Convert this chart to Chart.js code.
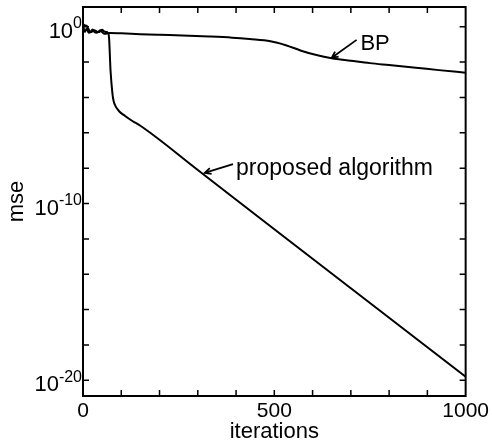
<!DOCTYPE html>
<html>
<head>
<meta charset="utf-8">
<script src="https://cdn.jsdelivr.net/npm/chart.js@4/dist/chart.umd.min.js"></script>
<style>
  body { margin: 0; background: #fff; }
  canvas { display: block; }
</style>
</head>
<body>
<canvas id="chart" width="492" height="448"></canvas>
<script>
// BP curve (iterations, mse)
var bpIter = [0, 5, 10, 15, 20, 25, 30, 35, 40, 45, 50, 55, 60, 70, 100, 150, 200, 260, 330, 390, 435, 490, 530, 570, 610, 650, 700, 750, 800, 870, 930, 1000];
var bpMse = [1.26, 0.5, 0.8, 0.45, 0.5, 0.7, 0.5, 0.45, 0.5, 0.63, 0.5, 0.4, 0.4, 0.44, 0.42, 0.38, 0.35, 0.32, 0.28, 0.24, 0.2, 0.15, 0.09, 0.044, 0.025, 0.0166, 0.012, 0.0087, 0.0068, 0.0048, 0.0035, 0.0025];

// proposed algorithm curve
var propIter = [0, 5, 10, 15, 20, 25, 30, 35, 40, 45, 50, 55, 60, 65, 68, 72, 77, 80, 85, 95, 110, 130, 150, 300, 500, 700, 1000];
var propMse = [1.4, 1.2, 1.1, 0.7, 0.5, 0.55, 0.62, 0.55, 0.5, 0.55, 0.68, 0.55, 0.5, 0.45, 0.25, 3.2e-3, 1.6e-4, 6.3e-5, 3.2e-5, 1.6e-5, 8.9e-6, 4.5e-6, 2.5e-6, 7.9e-9, 3.5e-12, 1.6e-15, 1.6e-20];

// axes
var xTickValues = [0, 500, 1000];
var xMinorTicks = [100, 200, 300, 400, 500, 600, 700, 800, 900];
var yTickValues = [1, 1e-10, 1e-20];
var yTickExps = ["0", "-10", "-20"];
var yMinorTicks = [1, 1e-2, 1e-4, 1e-6, 1e-8, 1e-10, 1e-12, 1e-14, 1e-16, 1e-18, 1e-20];

function toPoints(xs, ys) {
  return xs.map(function (x, i) { return { x: x, y: ys[i] }; });
}

var FONT = "'Liberation Sans', Arial, sans-serif";

var framePlugin = {
  id: "frame",
  afterDraw: function (chart) {
    var ctx = chart.ctx;
    var a = chart.chartArea;
    var xs = chart.scales.x;
    var ys = chart.scales.y;
    ctx.save();
    ctx.strokeStyle = "#000";
    ctx.lineWidth = 2;
    ctx.strokeRect(a.left, a.top, a.right - a.left, a.bottom - a.top);

    // inward ticks
    ctx.lineWidth = 1.5;
    ctx.beginPath();
    xMinorTicks.forEach(function (v) {
      var px = xs.getPixelForValue(v);
      ctx.moveTo(px, a.bottom); ctx.lineTo(px, a.bottom - 6);
      ctx.moveTo(px, a.top); ctx.lineTo(px, a.top + 6);
    });
    yMinorTicks.forEach(function (v) {
      var py = ys.getPixelForValue(v);
      ctx.moveTo(a.left, py); ctx.lineTo(a.left + 6, py);
      ctx.moveTo(a.right, py); ctx.lineTo(a.right - 6, py);
    });
    ctx.stroke();

    // y tick labels with superscripts
    ctx.fillStyle = "#000";
    ctx.textBaseline = "middle";
    yTickValues.forEach(function (v, i) {
      var py = ys.getPixelForValue(v);
      var xEnd = a.left - 1;
      ctx.font = "16px " + FONT;
      var ew = ctx.measureText(yTickExps[i]).width;
      ctx.textAlign = "left";
      ctx.fillText(yTickExps[i], xEnd - ew, py - 3);
      ctx.font = "22px " + FONT;
      ctx.textAlign = "right";
      ctx.fillText("10", xEnd - ew, py + 5);
    });

    // annotations
    function arrow(x1, y1, x2, y2) {
      var ang = Math.atan2(y2 - y1, x2 - x1);
      ctx.beginPath();
      ctx.moveTo(x1, y1); ctx.lineTo(x2, y2);
      ctx.moveTo(x2 - 7 * Math.cos(ang - 0.45), y2 - 7 * Math.sin(ang - 0.45));
      ctx.lineTo(x2, y2);
      ctx.lineTo(x2 - 7 * Math.cos(ang + 0.45), y2 - 7 * Math.sin(ang + 0.45));
      ctx.stroke();
    }
    ctx.lineWidth = 1.8;
    arrow(xs.getPixelForValue(715), ys.getPixelForValue(0.18), xs.getPixelForValue(650), ys.getPixelForValue(0.0175));
    arrow(xs.getPixelForValue(392), ys.getPixelForValue(1.7e-8), xs.getPixelForValue(318), ys.getPixelForValue(5.4e-9));
    ctx.textAlign = "left";
    ctx.textBaseline = "alphabetic";
    ctx.font = "22px " + FONT;
    ctx.fillText("BP", xs.getPixelForValue(725), ys.getPixelForValue(0.05));
    ctx.font = "23px " + FONT;
    ctx.fillText("proposed algorithm", xs.getPixelForValue(400), ys.getPixelForValue(4.2e-9));
    ctx.restore();
  }
};

var ctx = document.getElementById("chart").getContext("2d");
var myChart = new Chart(ctx, {
  type: "line",
  data: {
    datasets: [
      {
        label: "BP",
        data: toPoints(bpIter, bpMse),
        borderColor: "#000",
        borderWidth: 2,
        pointRadius: 0,
        cubicInterpolationMode: "monotone",
        fill: false,
      },
      {
        label: "proposed algorithm",
        data: toPoints(propIter, propMse),
        borderColor: "#000",
        borderWidth: 2,
        pointRadius: 0,
        cubicInterpolationMode: "monotone",
        fill: false,
      },
    ],
  },
  options: {
    responsive: false,
    animation: false,
    layout: { padding: { top: 7, right: 26, left: 0, bottom: 0 } },
    scales: {
      x: {
        type: "linear",
        min: 0,
        max: 1000,
        grid: { display: false, drawTicks: false },
        border: { display: false },
        afterBuildTicks: function (s) {
          s.ticks = xTickValues.map(function (v) { return { value: v }; });
        },
        ticks: {
          color: "#000",
          font: { family: FONT, size: 21 },
          padding: 3,
          maxRotation: 0,
          autoSkip: false,
          callback: function (v) { return String(v); },
        },
        title: {
          display: true,
          text: "iterations",
          color: "#000",
          font: { family: FONT, size: 22 },
          padding: { top: 0, bottom: 3 },
        },
        afterFit: function (s) { s.height = 52; },
      },
      y: {
        type: "logarithmic",
        min: 1.3e-21,
        max: 13,
        grid: { display: false, drawTicks: false },
        border: { display: false },
        ticks: { display: false },
        title: {
          display: true,
          text: "mse",
          color: "#000",
          font: { family: FONT, size: 22 },
          padding: { top: 4, bottom: 0 },
        },
        afterFit: function (s) { s.width = 83; },
      },
    },
    plugins: {
      legend: { display: false },
      tooltip: { enabled: false },
    },
  },
  plugins: [framePlugin],
});
</script>
</body>
</html>
